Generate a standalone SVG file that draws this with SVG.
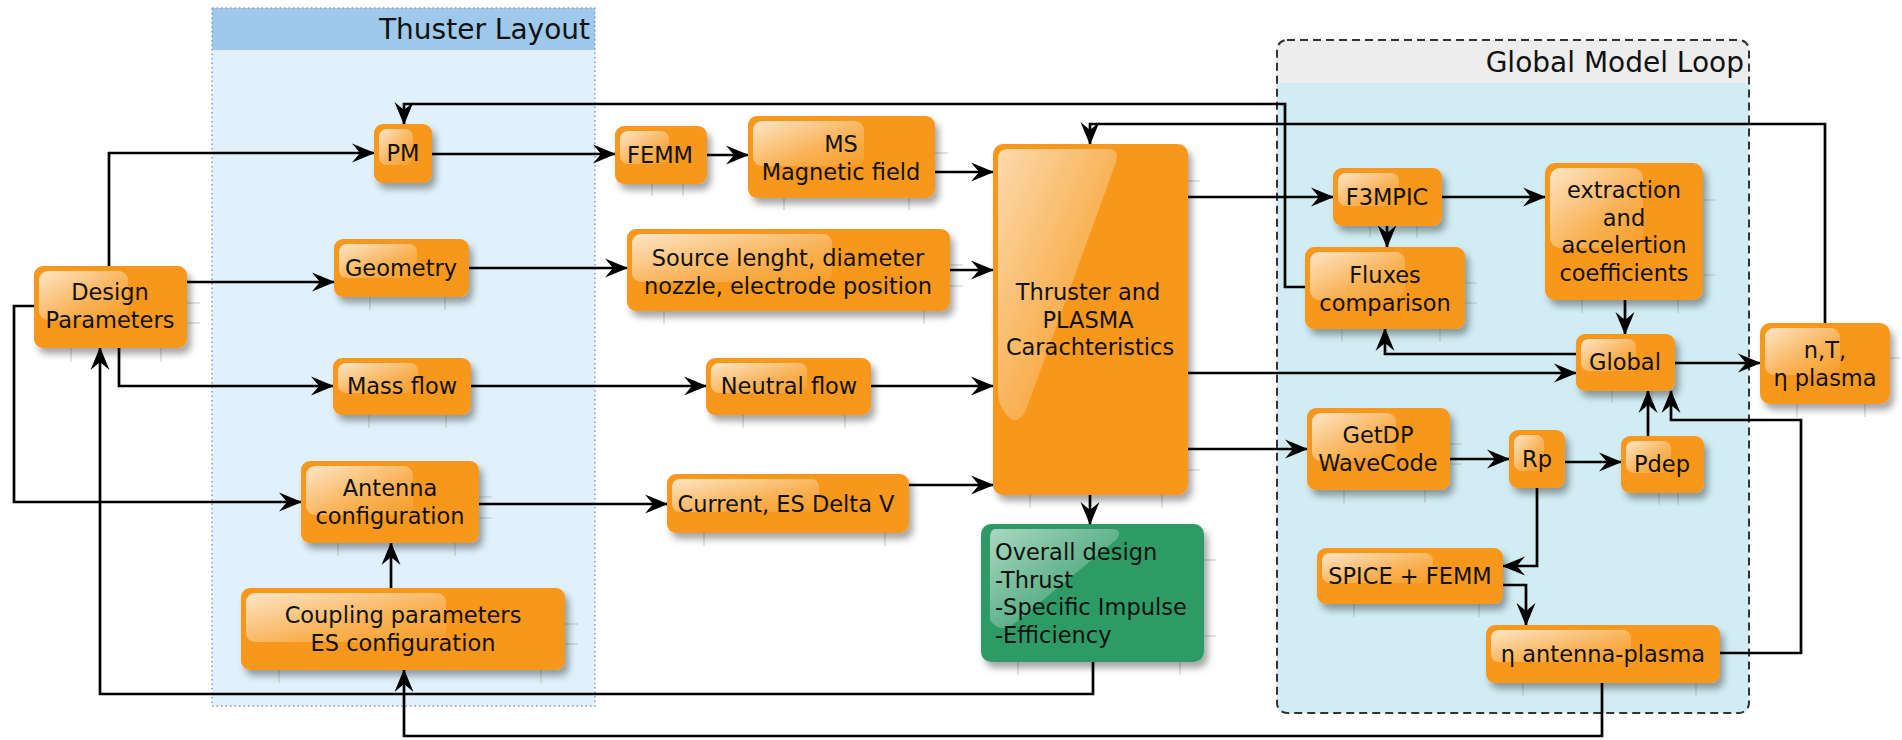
<svg xmlns="http://www.w3.org/2000/svg" width="1902" height="740" viewBox="0 0 1902 740">
<defs>
<style>
.box{fill:#F7981E;filter:url(#sh)}
.gbox{fill:#2E9B66;filter:url(#sh)}
.gl{fill:url(#gloss)}
.t{font-family:"DejaVu Sans","Liberation Sans",sans-serif;font-size:22.5px;fill:#111;text-anchor:middle}
.tl{font-family:"DejaVu Sans","Liberation Sans",sans-serif;font-size:22.5px;fill:#111;text-anchor:start}
.title{font-family:"DejaVu Sans","Liberation Sans",sans-serif;font-size:28px;fill:#111;text-anchor:end}
.c path{fill:none;stroke:#000;stroke-width:2.7;stroke-linejoin:miter}
.c path.a{marker-end:url(#ah)}
.tick{stroke:#999;stroke-width:1;opacity:0.55}
</style>
<filter id="sh" x="-20%" y="-20%" width="150%" height="150%">
<feDropShadow dx="4" dy="6" stdDeviation="3.5" flood-color="#000" flood-opacity="0.35"/>
</filter>
<linearGradient id="gloss" x1="0" y1="0" x2="1" y2="1">
<stop offset="0" stop-color="#fff" stop-opacity="0.75"/>
<stop offset="0.6" stop-color="#fff" stop-opacity="0.25"/>
<stop offset="1" stop-color="#fff" stop-opacity="0.05"/>
</linearGradient>
<marker id="ah" markerUnits="userSpaceOnUse" markerWidth="23" markerHeight="20" viewBox="0 0 23 20" refX="22" refY="10" orient="auto">
<path d="M0,0.5 L23,10 L0,19.5 L8,10 Z" fill="#000"/>
</marker>
</defs>

<!-- panels -->
<g id="panel-thuster">
<rect x="212" y="8" width="383" height="698" fill="#E0F1FB"/>
<rect x="212" y="8" width="383" height="42" fill="#9FC9EA"/>
<rect x="212" y="8" width="383" height="698" fill="none" stroke="#8A96C4" stroke-width="1.5" stroke-dasharray="1.5 3"/>
<text class="title" x="590" y="39">Thuster Layout</text>
</g>
<g id="panel-global">
<path d="M1286,40 H1739 Q1749,40 1749,50 V83 H1277 V50 Q1277,40 1286,40 Z" fill="#EDEDED"/>
<path d="M1277,83 H1749 V703 Q1749,713 1739,713 H1286 Q1277,713 1277,703 Z" fill="#D1ECF3"/>
<rect x="1277" y="40" width="472" height="673" rx="10" fill="none" stroke="#333" stroke-width="2" stroke-dasharray="8 5"/>
<text class="title" x="1744" y="72">Global Model Loop</text>
</g>

<!-- connectors -->
<g id="connectors" class="c">
<path class="a" d="M109,266 V153 H374"/>
<path class="a" d="M187,282 H334"/>
<path class="a" d="M119,348 V386 H333"/>
<path class="a" d="M34,306 H14 V502 H301"/>
<path class="a" d="M1093,662 V694 H100 V348"/>
<path class="a" d="M1602,683 V736 H404 V670"/>
<path class="a" d="M432,154 H615"/>
<path class="a" d="M707,155 H748"/>
<path class="a" d="M935,172 H993"/>
<path class="a" d="M469,268 H627"/>
<path class="a" d="M950,270 H993"/>
<path class="a" d="M471,386 H706"/>
<path class="a" d="M871,386 H993"/>
<path class="a" d="M479,504 H667"/>
<path class="a" d="M909,485 H993"/>
<path class="a" d="M391,588 V543"/>
<path class="a" d="M1090,495 V524"/>
<path class="a" d="M1188,197 H1333"/>
<path class="a" d="M1188,373 H1576"/>
<path class="a" d="M1188,449 H1307"/>
<path class="a" d="M1442,197 H1545"/>
<path class="a" d="M1387,226 V247"/>
<path class="a" d="M1625,300 V334"/>
<path class="a" d="M1576,354 H1385 V329"/>
<path class="a" d="M1675,363 H1760"/>
<path class="a" d="M1305,287 H1285 V104 H404 V124"/>
<path class="a" d="M1825,323 V124 H1090 V144"/>
<path class="a" d="M1450,459 H1509"/>
<path class="a" d="M1565,462 H1621"/>
<path class="a" d="M1648,436 V391"/>
<path class="a" d="M1537,488 V566 H1503"/>
<path class="a" d="M1503,585 H1526 V625"/>
<path class="a" d="M1720,653 H1801 V420 H1671 V391"/>
</g>

<!-- nodes -->
<g id="design-parameters">
<line class="tick" x1="71" y1="348" x2="71" y2="362"/><line class="tick" x1="161" y1="348" x2="161" y2="362"/>
<line class="tick" x1="187" y1="303" x2="200" y2="303"/><line class="tick" x1="187" y1="323" x2="200" y2="323"/>
<rect class="box" x="34" y="266" width="153" height="82" rx="9"/>
<rect class="gl" x="39" y="271" width="89" height="49" rx="9"/>
<text class="t" x="110" y="300">Design</text><text class="t" x="110" y="328">Parameters</text>
</g>
<g id="pm">
<rect class="box" x="374" y="124" width="58" height="59" rx="9"/>
<rect class="gl" x="379" y="129" width="34" height="36" rx="8"/>
<text class="t" x="403" y="161">PM</text>
</g>
<g id="geometry">
<line class="tick" x1="370" y1="297" x2="370" y2="310"/><line class="tick" x1="445" y1="297" x2="445" y2="310"/>
<rect class="box" x="334" y="239" width="135" height="58" rx="9"/>
<rect class="gl" x="339" y="244" width="78" height="34" rx="8"/>
<text class="t" x="401" y="276">Geometry</text>
</g>
<g id="mass-flow">
<line class="tick" x1="369" y1="415" x2="369" y2="428"/><line class="tick" x1="446" y1="415" x2="446" y2="428"/>
<rect class="box" x="333" y="358" width="138" height="57" rx="9"/>
<rect class="gl" x="338" y="363" width="80" height="30" rx="8"/>
<text class="t" x="402" y="394">Mass flow</text>
</g>
<g id="antenna-configuration">
<line class="tick" x1="338" y1="543" x2="338" y2="556"/><line class="tick" x1="455" y1="543" x2="455" y2="556"/>
<line class="tick" x1="479" y1="497" x2="492" y2="497"/><line class="tick" x1="479" y1="518" x2="492" y2="518"/>
<rect class="box" x="301" y="461" width="178" height="82" rx="9"/>
<rect class="gl" x="306" y="466" width="107" height="49" rx="9"/>
<text class="t" x="390" y="496">Antenna</text><text class="t" x="390" y="524">configuration</text>
</g>
<g id="coupling-parameters">
<line class="tick" x1="279" y1="670" x2="279" y2="683"/><line class="tick" x1="541" y1="670" x2="541" y2="683"/>
<line class="tick" x1="565" y1="624" x2="578" y2="624"/><line class="tick" x1="565" y1="644" x2="578" y2="644"/>
<rect class="box" x="241" y="588" width="324" height="82" rx="9"/>
<rect class="gl" x="246" y="593" width="200" height="49" rx="9"/>
<text class="t" x="403" y="623">Coupling parameters</text><text class="t" x="403" y="651">ES configuration</text>
</g>
<g id="femm">
<line class="tick" x1="652" y1="184" x2="652" y2="196"/><line class="tick" x1="683" y1="184" x2="683" y2="196"/>
<rect class="box" x="615" y="126" width="92" height="58" rx="9"/>
<rect class="gl" x="620" y="131" width="49" height="33" rx="8"/>
<text class="t" x="660" y="163">FEMM</text>
</g>
<g id="ms-magnetic-field">
<line class="tick" x1="784" y1="198" x2="784" y2="210"/><line class="tick" x1="909" y1="198" x2="909" y2="210"/>
<line class="tick" x1="935" y1="153" x2="948" y2="153"/>
<rect class="box" x="748" y="116" width="187" height="82" rx="9"/>
<rect class="gl" x="753" y="121" width="111" height="45" rx="9"/>
<text class="t" x="841" y="152">MS</text><text class="t" x="841" y="180">Magnetic field</text>
</g>
<g id="source-lenght">
<line class="tick" x1="664" y1="311" x2="664" y2="324"/><line class="tick" x1="924" y1="311" x2="924" y2="324"/>
<line class="tick" x1="950" y1="265" x2="963" y2="265"/><line class="tick" x1="950" y1="286" x2="963" y2="286"/>
<rect class="box" x="627" y="229" width="323" height="82" rx="9"/>
<rect class="gl" x="632" y="234" width="200" height="48" rx="9"/>
<text class="t" x="788" y="266">Source lenght, diameter</text><text class="t" x="788" y="294">nozzle, electrode position</text>
</g>
<g id="neutral-flow">
<line class="tick" x1="743" y1="415" x2="743" y2="428"/><line class="tick" x1="845" y1="415" x2="845" y2="428"/>
<rect class="box" x="706" y="358" width="165" height="57" rx="9"/>
<rect class="gl" x="711" y="363" width="96" height="30" rx="8"/>
<text class="t" x="789" y="394">Neutral flow</text>
</g>
<g id="current-es-delta-v">
<line class="tick" x1="704" y1="533" x2="704" y2="546"/><line class="tick" x1="885" y1="533" x2="885" y2="546"/>
<rect class="box" x="667" y="474" width="242" height="59" rx="9"/>
<rect class="gl" x="672" y="479" width="147" height="33" rx="8"/>
<text class="t" x="786" y="512">Current, ES Delta V</text>
</g>
<g id="thruster-plasma">
<line class="tick" x1="1030" y1="495" x2="1030" y2="508"/><line class="tick" x1="1162" y1="495" x2="1162" y2="508"/>
<line class="tick" x1="1188" y1="181" x2="1200" y2="181"/><line class="tick" x1="1188" y1="470" x2="1200" y2="470"/>
<rect class="box" x="993" y="144" width="195" height="351" rx="10"/>
<path fill="url(#gloss)" opacity="0.85" d="M1008,149 H1108 Q1120,149 1116,162 L1026,410 Q1017,428 1006,414 Q998,404 998,392 V159 Q998,149 1008,149 Z"/>
<text class="t" x="1088" y="300">Thruster and</text><text class="t" x="1088" y="328">PLASMA</text><text class="t" x="1090" y="355">Carachteristics</text>
</g>
<g id="overall-design">
<line class="tick" x1="1018" y1="662" x2="1018" y2="675"/><line class="tick" x1="1180" y1="662" x2="1180" y2="675"/>
<line class="tick" x1="1204" y1="560" x2="1216" y2="560"/><line class="tick" x1="1204" y1="636" x2="1216" y2="636"/>
<rect class="gbox" x="981" y="524" width="223" height="138" rx="10"/>
<path fill="url(#gloss)" opacity="0.8" d="M995,529 H1112 Q1124,529 1116,540 L1014,624 Q1000,634 990,620 V539 Q990,529 995,529 Z"/>
<text class="tl" x="995" y="560">Overall design</text>
<text class="tl" x="995" y="588">-Thrust</text>
<text class="tl" x="995" y="615">-Specific Impulse</text>
<text class="tl" x="995" y="643">-Efficiency</text>
</g>
<g id="f3mpic">
<line class="tick" x1="1370" y1="226" x2="1370" y2="238"/><line class="tick" x1="1417" y1="226" x2="1417" y2="238"/>
<rect class="box" x="1333" y="168" width="109" height="58" rx="9"/>
<rect class="gl" x="1338" y="173" width="61" height="33" rx="8"/>
<text class="t" x="1387" y="205">F3MPIC</text>
</g>
<g id="fluxes-comparison">
<line class="tick" x1="1342" y1="329" x2="1342" y2="342"/><line class="tick" x1="1440" y1="329" x2="1440" y2="342"/>
<line class="tick" x1="1465" y1="283" x2="1477" y2="283"/><line class="tick" x1="1465" y1="303" x2="1477" y2="303"/>
<rect class="box" x="1305" y="247" width="160" height="82" rx="9"/>
<rect class="gl" x="1310" y="252" width="95" height="48" rx="9"/>
<text class="t" x="1385" y="283">Fluxes</text><text class="t" x="1385" y="311">comparison</text>
</g>
<g id="extraction">
<line class="tick" x1="1582" y1="300" x2="1582" y2="313"/><line class="tick" x1="1678" y1="300" x2="1678" y2="313"/>
<line class="tick" x1="1703" y1="200" x2="1715" y2="200"/><line class="tick" x1="1703" y1="275" x2="1715" y2="275"/>
<rect class="box" x="1545" y="163" width="158" height="137" rx="10"/>
<rect class="gl" x="1550" y="168" width="93" height="80" rx="10"/>
<text class="t" x="1624" y="198">extraction</text><text class="t" x="1624" y="226">and</text><text class="t" x="1624" y="253">accelertion</text><text class="t" x="1624" y="281">coefficients</text>
</g>
<g id="global">
<line class="tick" x1="1612" y1="391" x2="1612" y2="403"/><line class="tick" x1="1652" y1="391" x2="1652" y2="403"/>
<rect class="box" x="1576" y="334" width="99" height="57" rx="9"/>
<rect class="gl" x="1581" y="339" width="55" height="32" rx="8"/>
<text class="t" x="1625" y="370">Global</text>
</g>
<g id="n-t-plasma">
<line class="tick" x1="1797" y1="404" x2="1797" y2="417"/><line class="tick" x1="1865" y1="404" x2="1865" y2="417"/>
<line class="tick" x1="1890" y1="358" x2="1900" y2="358"/>
<rect class="box" x="1760" y="323" width="130" height="81" rx="10"/>
<rect class="gl" x="1765" y="328" width="75" height="47" rx="9"/>
<text class="t" x="1825" y="358">n,T,</text><text class="t" x="1825" y="386">η plasma</text>
</g>
<g id="getdp-wavecode">
<line class="tick" x1="1344" y1="490" x2="1344" y2="503"/><line class="tick" x1="1425" y1="490" x2="1425" y2="503"/>
<line class="tick" x1="1450" y1="444" x2="1462" y2="444"/><line class="tick" x1="1450" y1="464" x2="1462" y2="464"/>
<rect class="box" x="1307" y="408" width="143" height="82" rx="9"/>
<rect class="gl" x="1312" y="413" width="84" height="48" rx="9"/>
<text class="t" x="1378" y="443">GetDP</text><text class="t" x="1378" y="471">WaveCode</text>
</g>
<g id="rp">
<rect class="box" x="1509" y="430" width="56" height="58" rx="9"/>
<rect class="gl" x="1514" y="435" width="30" height="36" rx="8"/>
<text class="t" x="1537" y="467">Rp</text>
</g>
<g id="pdep">
<line class="tick" x1="1659" y1="493" x2="1659" y2="505"/><line class="tick" x1="1678" y1="493" x2="1678" y2="505"/>
<rect class="box" x="1621" y="436" width="83" height="57" rx="9"/>
<rect class="gl" x="1626" y="441" width="45" height="32" rx="8"/>
<text class="t" x="1662" y="472">Pdep</text>
</g>
<g id="spice-femm">
<line class="tick" x1="1354" y1="604" x2="1354" y2="617"/><line class="tick" x1="1479" y1="604" x2="1479" y2="617"/>
<rect class="box" x="1317" y="548" width="186" height="56" rx="9"/>
<rect class="gl" x="1322" y="553" width="111" height="30" rx="8"/>
<text class="t" x="1410" y="584">SPICE + FEMM</text>
</g>
<g id="eta-antenna-plasma">
<line class="tick" x1="1523" y1="683" x2="1523" y2="696"/><line class="tick" x1="1696" y1="683" x2="1696" y2="696"/>
<rect class="box" x="1486" y="625" width="234" height="58" rx="9"/>
<rect class="gl" x="1491" y="630" width="140" height="32" rx="8"/>
<text class="t" x="1603" y="662">η antenna-plasma</text>
</g>
</svg>
